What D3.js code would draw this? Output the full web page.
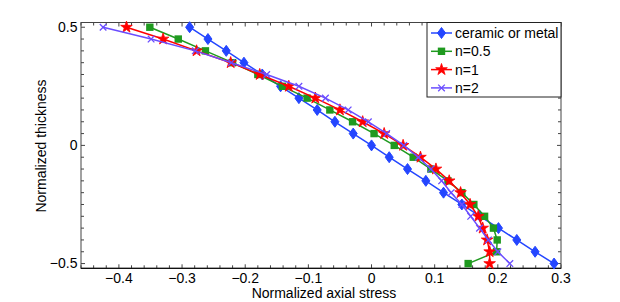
<!DOCTYPE html>
<html><head><meta charset="utf-8">
<script src="https://cdn.jsdelivr.net/npm/d3@7"></script>
<style>body{margin:0;background:#fff}svg{display:block;font-family:"Liberation Sans",Arial,Helvetica,sans-serif}</style>
</head><body><svg id="c" width="620" height="302"></svg>
<script>
const thickness = [0.5,0.45,0.4,0.35,0.3,0.25,0.2,0.15,0.1,0.05,0,-0.05,-0.1,-0.15,-0.2,-0.25,-0.3,-0.35,-0.4,-0.45,-0.5];
const ceramicOrMetal = [-0.288,-0.259,-0.230,-0.202,-0.173,-0.144,-0.115,-0.086,-0.058,-0.029,0,0.028,0.057,0.086,0.114,0.143,0.172,0.201,0.230,0.259,0.289];
const n05 = [-0.351,-0.306,-0.263,-0.220,-0.180,-0.141,-0.102,-0.066,-0.030,0.004,0.036,0.066,0.094,0.121,0.143,0.162,0.179,0.193,0.199,0.198,0.153];
const n1 = [-0.388,-0.330,-0.277,-0.223,-0.177,-0.131,-0.089,-0.050,-0.014,0.020,0.050,0.0775,0.102,0.123,0.141,0.156,0.169,0.176,0.183,0.187,0.187];
const n2 = [-0.425,-0.349,-0.279,-0.222,-0.166,-0.115,-0.073,-0.037,-0.005,0.024,0.051,0.074,0.094,0.111,0.126,0.143,0.157,0.171,0.185,0.200,0.219];
const seriesNames = ["ceramic or metal","n=0.5","n=1","n=2"];
const xTicks = [-0.4,-0.3,-0.2,-0.1,0,0.1,0.2,0.3];
const yTicks = [-0.5,0,0.5];
const xLabel = "Normalized axial stress";
const yLabel = "Normalized thickness";

const colors = ["#2446ff","#1f9a1f","#ff0000","#6a4dff"];
const shapes = ["diamond","square","star","x"];
const seriesVals = [ceramicOrMetal,n05,n1,n2];

const svg = d3.select("#c");
const L=81,R=561,T=22.5,B=268.3;
const x = d3.scaleLinear().domain([-0.46,0.3]).range([L,R]);
const y = d3.scaleLinear().domain([-0.52,0.52]).range([B,T]);

const fmt = v => (v<0?"\u2212":"") + (v===0?"0":String(Math.abs(v)));

svg.append("rect").attr("x",L).attr("y",T).attr("width",R-L).attr("height",B-T)
  .attr("fill","none").attr("stroke","#444").attr("stroke-width",1);

const xMinor = d3.range(-46,31,2).map(v=>v/100);
const yMinor = d3.range(-10,11,1).map(v=>v*0.05);
const tk = svg.append("g").attr("stroke","#444").attr("stroke-width",1);
xMinor.forEach(v=>{
  const len = xTicks.some(t=>Math.abs(t-v)<1e-9)?4:3;
  tk.append("line").attr("x1",x(v)).attr("x2",x(v)).attr("y1",B).attr("y2",B-len);
  tk.append("line").attr("x1",x(v)).attr("x2",x(v)).attr("y1",T).attr("y2",T+len);
});
yMinor.forEach(v=>{
  const len = yTicks.some(t=>Math.abs(t-v)<1e-9)?4:3;
  tk.append("line").attr("y1",y(v)).attr("y2",y(v)).attr("x1",L).attr("x2",L+len);
  tk.append("line").attr("y1",y(v)).attr("y2",y(v)).attr("x1",R).attr("x2",R-len);
});
svg.append("line").attr("x1",L).attr("x2",R).attr("y1",B).attr("y2",B).attr("stroke","#111").attr("stroke-width",1.2);

svg.append("g").selectAll("text").data(xTicks).join("text")
  .attr("x",d=>x(d)).attr("y",283).attr("text-anchor","middle").attr("font-size",14).attr("fill","#000")
  .text(fmt);
svg.append("g").selectAll("text").data(yTicks).join("text")
  .attr("x",77.5).attr("y",d=>y(d)).attr("dy","0.35em").attr("text-anchor","end").attr("font-size",14).attr("fill","#000")
  .text(fmt);

svg.append("text").attr("x",324).attr("y",298).attr("text-anchor","middle").attr("font-size",14).attr("fill","#000").text(xLabel);
svg.append("text").attr("transform","translate(45.5,146) rotate(-90)").attr("text-anchor","middle").attr("font-size",14).attr("fill","#000").text(yLabel);

function marker(g, shape, color){
  if(shape==="diamond") g.append("path").attr("d","M0,-5.5L4,0L0,5.5L-4,0Z").attr("fill",color).attr("stroke",color);
  else if(shape==="square") g.append("rect").attr("x",-3.7).attr("y",-3.7).attr("width",7.4).attr("height",7.4).attr("fill",color);
  else if(shape==="star") g.append("path").attr("d",d3.symbol(d3.symbolStar,42)()).attr("fill",color).attr("stroke",color).attr("stroke-width",0.8);
  else g.append("path").attr("d","M-3.3,-3.3L3.3,3.3M-3.3,3.3L3.3,-3.3").attr("stroke",color).attr("stroke-width",1.3).attr("fill","none");
}

const line = d3.line().x(d=>x(d[0])).y(d=>y(d[1]));
seriesVals.forEach((vals,i)=>{
  const pts = vals.map((v,j)=>[v,thickness[j]]);
  const g = svg.append("g");
  g.append("path").datum(pts).attr("d",line).attr("fill","none").attr("stroke",colors[i]).attr("stroke-width",1.5);
  pts.forEach(p=>{
    const m = g.append("g").attr("transform",`translate(${x(p[0])},${y(p[1])})`);
    marker(m,shapes[i],colors[i]);
  });
});

const lg = svg.append("g");
lg.append("rect").attr("x",427).attr("y",T).attr("width",R-427).attr("height",97-T).attr("fill","#fff").attr("stroke","#222").attr("stroke-width",1);
const ly = [33,51.3,69.6,87.9];
seriesNames.forEach((n,i)=>{
  lg.append("line").attr("x1",431).attr("x2",452).attr("y1",ly[i]).attr("y2",ly[i]).attr("stroke",colors[i]).attr("stroke-width",1.5);
  marker(lg.append("g").attr("transform",`translate(441.5,${ly[i]})`),shapes[i],colors[i]);
  lg.append("text").attr("x",455).attr("y",ly[i]).attr("dy","0.35em").attr("font-size",14).attr("fill","#000").text(n);
});
</script></body></html>
